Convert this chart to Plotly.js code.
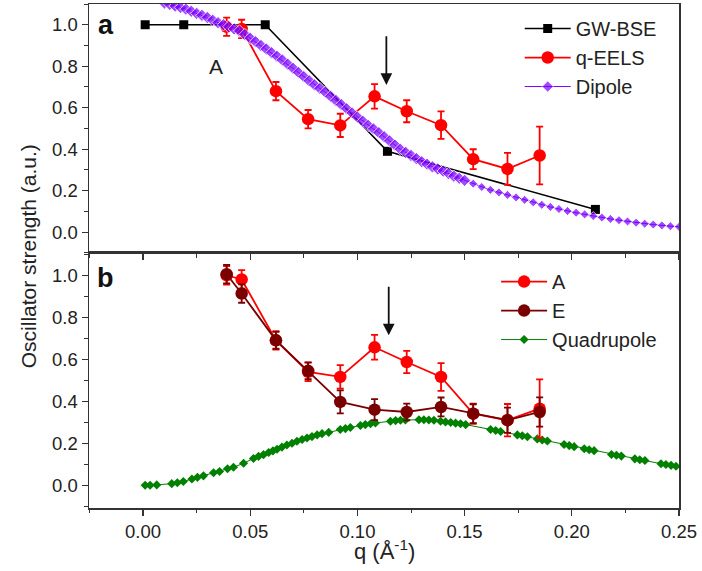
<!DOCTYPE html>
<html>
<head>
<meta charset="utf-8">
<script src="https://cdn.plot.ly/plotly-3.0.1.min.js"></script>
<style>html,body{margin:0;padding:0;background:#fff;}#chart{width:702px;height:571px;}</style>
</head>
<body>
<div id="chart"></div>
<script>
// ---------- Panel a ----------
const gwQ = [0.001, 0.019, 0.057, 0.114, 0.211];
const gwV = [1.0, 1.0, 1.0, 0.39, 0.11];

const eelsQ = [0.039, 0.046, 0.062, 0.077, 0.092, 0.108, 0.123, 0.139, 0.154, 0.170, 0.185];
const eelsV = [0.99, 0.98, 0.68, 0.545, 0.515, 0.655, 0.583, 0.516, 0.352, 0.305, 0.37];
const eelsErr = [0.044, 0.044, 0.044, 0.044, 0.056, 0.059, 0.053, 0.066, 0.048, 0.077, 0.139];

const dipoleQ = [0.0100,0.0125,0.0150,0.0175,0.0200,0.0225,0.0250,0.0275,0.0300,0.0325,0.0350,0.0375,0.0400,0.0425,0.0450,0.0475,0.0500,0.0525,0.0550,0.0575,0.0600,0.0625,0.0650,0.0675,0.0700,0.0725,0.0750,0.0775,0.0800,0.0825,0.0850,0.0875,0.0900,0.0925,0.0950,0.0975,0.1000,0.1025,0.1050,0.1075,0.1100,0.1125,0.1150,0.1175,0.1200,0.1225,0.1250,0.1275,0.1300,0.1325,0.1350,0.1375,0.1400,0.1425,0.1450,0.1475,0.1500,
  0.154,0.158,0.162,0.166,0.170,0.174,0.178,0.182,0.186,0.190,0.194,0.198,0.202,0.206,0.210,0.214,0.218,0.222,0.226,0.230,0.234,0.238,0.242,0.246,0.250];
const dipoleV = [1.105,1.098,1.090,1.083,1.075,1.065,1.055,1.045,1.035,1.022,1.010,1.000,0.990,0.980,0.970,0.953,0.935,0.918,0.900,0.883,0.865,0.848,0.830,0.810,0.790,0.770,0.750,0.730,0.710,0.693,0.675,0.655,0.635,0.615,0.595,0.575,0.555,0.535,0.515,0.498,0.480,0.460,0.440,0.420,0.400,0.385,0.370,0.355,0.340,0.328,0.315,0.305,0.295,0.283,0.270,0.260,0.250,
  0.234,0.218,0.204,0.192,0.180,0.168,0.156,0.144,0.132,0.122,0.112,0.102,0.094,0.086,0.078,0.071,0.064,0.058,0.052,0.046,0.041,0.037,0.033,0.029,0.026];

// ---------- Panel b ----------
const bQ = [0.039, 0.046, 0.062, 0.077, 0.092, 0.108, 0.123, 0.139, 0.154, 0.170, 0.185];
const aV = [1.0, 0.98, 0.69, 0.54, 0.516, 0.657, 0.587, 0.516, 0.341, 0.31, 0.365];
const aErr = [0.044, 0.044, 0.044, 0.044, 0.056, 0.059, 0.053, 0.066, 0.048, 0.077, 0.139];
const eV = [1.005, 0.913, 0.69, 0.545, 0.397, 0.36, 0.349, 0.373, 0.341, 0.31, 0.349];
const eErr = [0.044, 0.044, 0.04, 0.04, 0.055, 0.05, 0.04, 0.045, 0.045, 0.06, 0.07];

const quadQ = [0.001,0.0033,0.0064,0.0134,0.016,0.0188,0.0228,0.0254,0.0282,0.0329,0.0357,0.0394,0.0422,0.0469,0.0515,0.0539,0.0562,0.0586,0.0606,0.0625,0.0648,0.0671,0.0695,0.0718,0.0742,0.0765,0.0788,0.0812,0.0835,0.0866,0.0920,0.0944,0.0967,0.1014,0.1037,0.1061,0.1084,0.1154,0.1178,0.1201,0.1224,0.1287,0.1310,0.1333,0.1357,0.1388,0.1411,0.1435,0.1458,0.1481,0.1505,0.1621,0.1645,0.1668,0.1746,0.1769,0.1793,0.1839,0.1862,0.1886,0.1964,0.1988,0.2011,0.2058,0.2081,0.2104,0.2185,0.2208,0.2231,0.2294,0.2317,0.2341,0.2416,0.2439,0.2463,0.2486];
const quadV = [0.0,0.0,0.002,0.008,0.012,0.018,0.030,0.038,0.045,0.060,0.066,0.079,0.086,0.105,0.128,0.138,0.146,0.156,0.164,0.172,0.182,0.192,0.200,0.210,0.218,0.225,0.232,0.240,0.246,0.252,0.266,0.270,0.275,0.285,0.289,0.293,0.297,0.305,0.308,0.310,0.311,0.312,0.312,0.311,0.310,0.305,0.302,0.299,0.296,0.293,0.289,0.266,0.261,0.256,0.240,0.236,0.231,0.221,0.216,0.211,0.194,0.189,0.184,0.174,0.169,0.165,0.147,0.143,0.139,0.126,0.122,0.118,0.103,0.099,0.095,0.091];

const xTickVals = [0.00, 0.05, 0.10, 0.15, 0.20, 0.25];
const xTickText = ['0.00', '0.05', '0.10', '0.15', '0.20', '0.25'];
const yTickVals = [0.0, 0.2, 0.4, 0.6, 0.8, 1.0];
const yTickText = ['0.0', '0.2', '0.4', '0.6', '0.8', '1.0'];

const FONT = 'Liberation Sans, Arial, sans-serif';
const RED = '#ff0000', DARKRED = '#7a0000', PURPLE = '#7a00ff', GREEN = '#008000';

// denser, overlapping markers form a thick band where the curve is steep
const dipoleSizes = dipoleQ.map(q => (q < 0.152 ? 9.5 : 7));

const traces = [
  {x: gwQ, y: gwV, xaxis: 'x2', yaxis: 'y2', name: 'GW-BSE', legend: 'legend', mode: 'lines+markers',
   line: {color: '#000', width: 1.6}, marker: {symbol: 'square', size: 9, color: '#000'}},
  {x: eelsQ, y: eelsV, xaxis: 'x2', yaxis: 'y2', name: 'q-EELS', legend: 'legend', mode: 'lines+markers',
   line: {color: RED, width: 1.8}, marker: {symbol: 'circle', size: 12.5, color: RED},
   error_y: {type: 'data', array: eelsErr, color: RED, thickness: 1.8, width: 3.5}},
  {x: dipoleQ, y: dipoleV, xaxis: 'x2', yaxis: 'y2', name: 'Dipole', legend: 'legend', mode: 'lines+markers',
   line: {color: PURPLE, width: 1}, marker: {symbol: 'diamond', size: dipoleSizes, color: PURPLE}},

  {x: quadQ, y: quadV, xaxis: 'x', yaxis: 'y', name: 'Quadrupole', legend: 'legend2', legendrank: 3, mode: 'lines+markers',
   line: {color: GREEN, width: 1}, marker: {symbol: 'diamond', size: 7, color: GREEN}},
  {x: bQ, y: aV, xaxis: 'x', yaxis: 'y', name: 'A', legend: 'legend2', legendrank: 1, mode: 'lines+markers',
   line: {color: RED, width: 1.8}, marker: {symbol: 'circle', size: 12.5, color: RED},
   error_y: {type: 'data', array: aErr, color: RED, thickness: 1.8, width: 3.5}},
  {x: bQ, y: eV, xaxis: 'x', yaxis: 'y', name: 'E', legend: 'legend2', legendrank: 2, mode: 'lines+markers',
   line: {color: DARKRED, width: 1.8}, marker: {symbol: 'circle', size: 12.5, color: DARKRED},
   error_y: {type: 'data', array: eErr, color: DARKRED, thickness: 1.8, width: 3.5}}
];

const axisCommon = {
  showline: true, linecolor: '#333', linewidth: 1.5, mirror: true,
  ticks: 'outside', ticklen: 6, tickwidth: 1.3, tickcolor: '#333',
  showgrid: false, zeroline: false,
  tickfont: {family: FONT, size: 18.5, color: '#222'}
};
const minorX = {ticks: 'outside', ticklen: 3.5, tickwidth: 1, tickcolor: '#333', dtick: 0.025, tick0: 0};
const minorY = {ticks: 'outside', ticklen: 3.5, tickwidth: 1, tickcolor: '#333', dtick: 0.1, tick0: 0};

const layout = {
  width: 702, height: 571,
  margin: {l: 89, r: 23, t: 4, b: 63},
  paper_bgcolor: '#fff', plot_bgcolor: '#fff',
  font: {family: FONT, color: '#222'},
  xaxis: Object.assign({}, axisCommon, {
    domain: [0, 1], anchor: 'y', range: [-0.0252, 0.25], tickvals: xTickVals, ticktext: xTickText, minor: minorX
  }),
  xaxis2: Object.assign({}, axisCommon, {
    domain: [0, 1], anchor: 'y2', matches: 'x', range: [-0.0252, 0.25], tickvals: xTickVals, showticklabels: false, minor: minorX
  }),
  yaxis: Object.assign({}, axisCommon, {
    domain: [0, 0.506], anchor: 'x', range: [-0.108, 1.106], tickvals: yTickVals, ticktext: yTickText, minor: minorY
  }),
  yaxis2: Object.assign({}, axisCommon, {
    domain: [0.506, 1], anchor: 'x2', range: [-0.1, 1.1], tickvals: yTickVals, ticktext: yTickText, minor: minorY
  }),
  legend: {x: 0.73, y: 0.99, xanchor: 'left', yanchor: 'top', bgcolor: 'rgba(0,0,0,0)',
    font: {family: FONT, size: 20, color: '#222'}, itemwidth: 46, tracegroupgap: 0},
  legend2: {x: 0.69, y: 0.488, xanchor: 'left', yanchor: 'top', bgcolor: 'rgba(0,0,0,0)',
    font: {family: FONT, size: 20, color: '#222'}, itemwidth: 46, tracegroupgap: 0, traceorder: 'normal'},
  showlegend: true,
  annotations: [
    {xref: 'x2', yref: 'y2', axref: 'x2', ayref: 'y2', x: 0.1135, y: 0.71, ax: 0.1135, ay: 0.952, showarrow: true, arrowhead: 2, arrowsize: 1.3, arrowwidth: 1.8, arrowcolor: '#111', text: ''},
    {xref: 'x', yref: 'y', axref: 'x', ayref: 'y', x: 0.1146, y: 0.714, ax: 0.1146, ay: 0.952, showarrow: true, arrowhead: 2, arrowsize: 1.3, arrowwidth: 1.8, arrowcolor: '#111', text: ''},
    {xref: 'x2', yref: 'y2', x: 0.034, y: 0.80, text: 'A', showarrow: false, font: {family: FONT, size: 21, color: '#222'}},
    {xref: 'x2', yref: 'y2', x: -0.0175, y: 1.0, text: '<b>a</b>', showarrow: false, font: {family: FONT, size: 27, color: '#111'}},
    {xref: 'x', yref: 'y', x: -0.0175, y: 0.985, text: '<b>b</b>', showarrow: false, font: {family: FONT, size: 27, color: '#111'}},
    {xref: 'paper', yref: 'paper', x: -0.103, y: 0.5, textangle: -90, text: 'Oscillator strength (a.u.)', showarrow: false,
     xanchor: 'center', yanchor: 'middle', font: {family: FONT, size: 21, color: '#222'}},
    {xref: 'paper', yref: 'paper', x: 0.5, y: -0.083, text: 'q (Å<sup>-1</sup>)', showarrow: false,
     xanchor: 'center', yanchor: 'middle', font: {family: FONT, size: 22, color: '#222'}}
  ]
};

Plotly.newPlot('chart', traces, layout, {displayModeBar: false, staticPlot: true});
</script>
</body>
</html>
